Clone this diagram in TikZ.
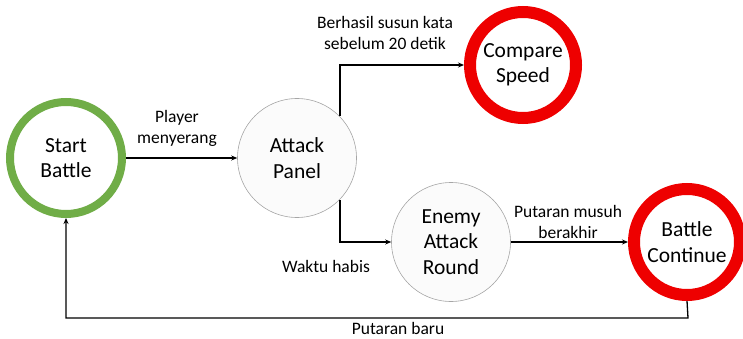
\documentclass[tikz,border=0pt]{standalone}
\usepackage{fontspec}
\setmainfont{Carlito}
\usetikzlibrary{arrows.meta}
\definecolor{ringgreen}{HTML}{70AD47}
\definecolor{ringred}{HTML}{EE0000}
\definecolor{plainedge}{HTML}{A6A6A6}
\definecolor{plainfill}{HTML}{FBFBFB}
\begin{document}
\begin{tikzpicture}[x=1pt,y=-1pt,
  state/.style={circle,align=center,font=\fontsize{21.5}{25.5}\selectfont,inner sep=0pt},
  startstate/.style={state,draw=ringgreen,fill=white,line width=8pt,minimum size=112pt},
  endstate/.style={state,draw=ringred,fill=white,line width=12pt,minimum size=106pt},
  plainstate/.style={state,draw=plainedge,fill=plainfill,line width=0.6pt,minimum size=119pt},
  flow/.style={draw=black,line width=1.3pt,-{Stealth[length=6pt,width=5pt]}},
  lbl/.style={align=center,font=\fontsize{17.5}{21}\selectfont,inner sep=0pt}]
\useasboundingbox (0,0) rectangle (743,339);

\node[startstate] (start) at (66,158) {Start\\Battle};
\node[plainstate] (attack) at (297,158) {Attack\\Panel};
\node[endstate] (compare) at (523,65) {Compare\\Speed};
\node[plainstate] (enemy) at (451,242) {Enemy\\Attack\\Round};
\node[endstate] (cont) at (687,242) {Battle\\Continue};

\coordinate (upturn) at (340,65);
\coordinate (downturn) at (340,242);
\coordinate (rbottom) at (688,318);
\coordinate (lbottom) at (66,318);

% transitions
\draw[flow] (340,116) -- (upturn) -- (compare.west);
\draw[flow] (start) -- (attack);
\draw[flow] (340,200) -- (downturn) -- (enemy.west);
\draw[flow] (enemy) -- (cont);
\draw[flow] (cont.south) -- (rbottom) -- (lbottom) -- (start.south);

% transition labels
\node[lbl] (l1) at (177,128) {Player\\menyerang};
\node[lbl] (l2) at (385,33) {Berhasil susun kata\\sebelum 20 detik};
\node[lbl] (l3) at (326,266) {Waktu habis};
\node[lbl] (l4) at (568,222) {Putaran musuh\\berakhir};
\node[lbl] (l5) at (398,328) {Putaran baru};
\end{tikzpicture}
\end{document}
